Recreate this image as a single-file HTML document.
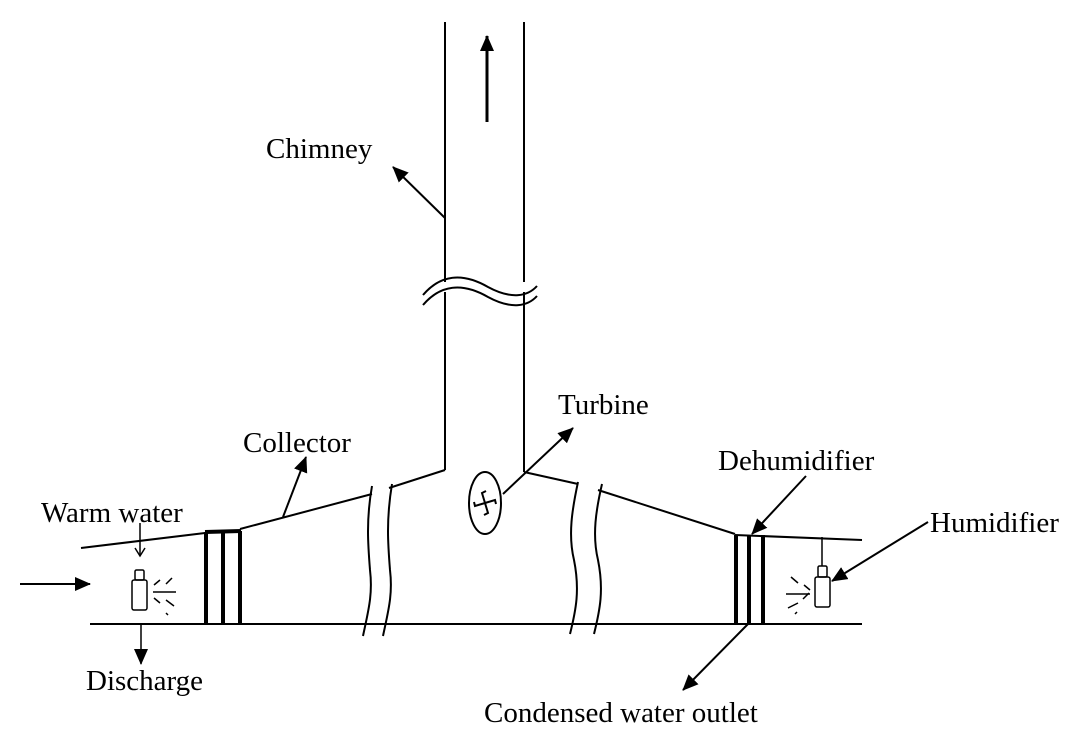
<!DOCTYPE html>
<html><head><meta charset="utf-8"><style>
html,body{margin:0;padding:0;background:#fff;}
svg{display:block;}
text{font-family:"Liberation Serif",serif;font-size:29px;fill:#000;}
</style></head><body>
<svg width="1080" height="754" viewBox="0 0 1080 754" xmlns="http://www.w3.org/2000/svg">
<defs>
<marker id="big" markerWidth="16" markerHeight="14" refX="15" refY="7" orient="auto" markerUnits="userSpaceOnUse" viewBox="0 0 16 14">
<path d="M0,0 L16,7 L0,14 z" fill="#000"/></marker>
</defs>
<g stroke="#000" fill="none" stroke-width="2">
<line x1="445" y1="22" x2="445" y2="470"/>
<line x1="524" y1="22" x2="524" y2="472"/>
<rect x="430" y="282" width="100" height="10" fill="#fff" stroke="none"/>
<path d="M423,295 C440,275 462,272 488,287 C512,300 528,296 537,286"/>
<path d="M423,305 C440,285 462,282 488,297 C512,310 528,306 537,296"/>
<line x1="487" y1="122" x2="487" y2="36" stroke-width="3" marker-end="url(#big)"/>
<line x1="445" y1="218" x2="393" y2="167" marker-end="url(#big)"/>
<line x1="81" y1="548" x2="205" y2="533"/>
<line x1="240" y1="529" x2="372" y2="494"/>
<line x1="389" y1="488" x2="445" y2="470"/>
<line x1="524" y1="472" x2="578" y2="484"/>
<line x1="598" y1="490" x2="735" y2="534"/>
<line x1="735" y1="535" x2="862" y2="540"/>
<line x1="90" y1="624" x2="862" y2="624"/>
<line x1="283" y1="517" x2="306" y2="457" marker-end="url(#big)"/>
<path d="M372,486 C366,520 368,545 370,570 C373,595 368,612 363,636"/>
<path d="M392,484 C386,520 388,545 390,570 C393,595 388,612 383,636" />
<path d="M578,482 C572,510 568,535 574,560 C580,590 576,610 570,634"/>
<path d="M602,484 C596,510 592,535 598,560 C604,590 600,610 594,634"/>
<g stroke-width="4">
<line x1="206" y1="532" x2="206" y2="624"/>
<line x1="223" y1="532" x2="223" y2="624"/>
<line x1="240" y1="531" x2="240" y2="624"/>
<line x1="205" y1="532" x2="241" y2="531"/>
<line x1="736" y1="535" x2="736" y2="624"/>
<line x1="749" y1="535" x2="749" y2="624"/>
<line x1="763" y1="535" x2="763" y2="624"/>
</g>
<ellipse cx="485" cy="503" rx="16" ry="31"/>
<path d="M485,503 L482,493 L486,491 M485,503 L495,500 L496,504 M485,503 L488,513 L484,515 M485,503 L475,506 L474,502" stroke-width="2"/>
<line x1="503" y1="494" x2="573" y2="428" marker-end="url(#big)"/>
<line x1="20" y1="584" x2="90" y2="584" marker-end="url(#big)"/>
<line x1="140" y1="523" x2="140" y2="556" stroke-width="1.5"/>
<path d="M135,548 L140,556 L145,548" stroke-width="1.5"/>
<rect x="135" y="570" width="9" height="10" rx="1.5" stroke-width="1.5"/>
<rect x="132" y="580" width="15" height="30" rx="2" stroke-width="1.5"/>
<g stroke-width="1.5"><line x1="153" y1="592" x2="176" y2="592"/><line x1="154" y1="585" x2="160" y2="580"/><line x1="166" y1="584" x2="172" y2="578"/><line x1="154" y1="598" x2="160" y2="603"/><line x1="166" y1="600" x2="174" y2="606"/><line x1="166" y1="613" x2="168" y2="615"/></g>
<line x1="141" y1="624" x2="141" y2="664" stroke-width="1.5" marker-end="url(#big)"/>
<line x1="822" y1="537" x2="822" y2="566" stroke-width="1.5"/>
<rect x="818" y="566" width="9" height="11" rx="1.5" stroke-width="1.5"/>
<rect x="815" y="577" width="15" height="30" rx="2" stroke-width="1.5"/>
<g stroke-width="1.5"><line x1="786" y1="594" x2="810" y2="594"/><line x1="791" y1="577" x2="798" y2="583"/><line x1="804" y1="585" x2="810" y2="590"/><line x1="788" y1="608" x2="798" y2="603"/><line x1="803" y1="599" x2="809" y2="593"/><line x1="795" y1="614" x2="797" y2="612"/></g>
<line x1="928" y1="522" x2="832" y2="581" marker-end="url(#big)"/>
<line x1="806" y1="476" x2="752" y2="534" marker-end="url(#big)"/>
<line x1="748" y1="624" x2="683" y2="690" marker-end="url(#big)"/>
</g>
<text x="266" y="158">Chimney</text>
<text x="558" y="414">Turbine</text>
<text x="243" y="452">Collector</text>
<text x="41" y="522">Warm water</text>
<text x="86" y="690">Discharge</text>
<text x="718" y="470">Dehumidifier</text>
<text x="930" y="532">Humidifier</text>
<text x="484" y="722">Condensed water outlet</text>
</svg>
</body></html>
